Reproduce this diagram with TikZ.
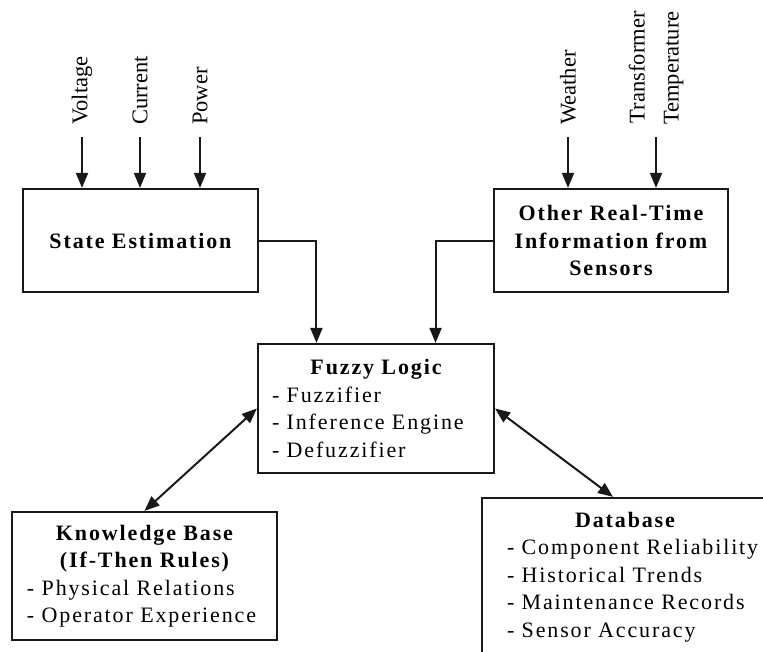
\documentclass[tikz,border=0pt]{standalone}
\usepackage{fontspec}
\setmainfont{Liberation Serif}
\newfontfamily\spacedfont[LetterSpace=8.5]{Liberation Serif}
\usepackage{tikz}
\usetikzlibrary{arrows.meta, calc}
\colorlet{line-color}{black!90}
\tikzset{
    block/.style = {draw=line-color, line width=2.2pt, inner sep=0pt,
        font=\spacedfont\fontsize{22}{27.5}\selectfont},
    in-label/.style = {rotate=90, anchor=west, inner xsep=12pt, inner ysep=0pt,
        align=right, font=\fontsize{22.5}{34}\selectfont},
    arr/.style = {draw=line-color, line width=2pt,
        -{Triangle[length=15pt,width=12pt]}},
    dbl-arr/.style = {arr, {Triangle[length=15pt,width=12pt]}-{Triangle[length=15pt,width=12pt]}},
}

\begin{document}
\begin{tikzpicture}[x=1pt,y=-1pt]
    \useasboundingbox (0,0) rectangle (763,651);

    % input blocks
    \node[block, minimum width=235pt, minimum height=103pt] (est) at (140.5,240.5)
        {\bfseries State Estimation};
    \node[block, minimum width=234pt, minimum height=103pt, align=center] (other) at (611,240.5)
        {\bfseries Other Real-Time\\ \bfseries Information from\\ \bfseries Sensors};

    % fuzzy logic core
    \node[block, minimum width=236pt, minimum height=129pt, text width=208pt, align=left] (fuzzy) at (376,408.5)
        {\makebox[208pt]{\bfseries Fuzzy Logic}\\ - Fuzzifier\\ - Inference Engine\\ - Defuzzifier};

    \node[block, minimum width=265pt, minimum height=128pt, text width=235pt, align=left] (know) at (144.5,576)
        {\makebox[235pt]{\bfseries Knowledge Base}\\ \makebox[235pt]{\bfseries (If-Then Rules)}\\
         - Physical Relations\\ - Operator Experience};
    \node[block, minimum width=300pt, minimum height=158pt, text width=250pt, align=left] (db) at (632,577)
        {\makebox[236pt]{\bfseries Database}\\ - Component Reliability\\ - Historical Trends\\
         - Maintenance Records\\ - Sensor Accuracy};

    % measured inputs
    \node[in-label] (volt) at (82,137) {Voltage};
    \node[in-label] (curr) at (140,137) {Current};
    \node[in-label] (pow) at (200,137) {Power};
    \node[in-label] (weather) at (568,137) {Weather};
    \node[in-label] (temp) at (656,137) {Transformer\\Temperature};

    \foreach \src in {volt, curr, pow}
        \draw[arr] (\src) -- (\src |- est.north);
    \foreach \src in {weather, temp}
        \draw[arr] (\src) -- (\src |- other.north);

    \draw[arr] (est.east) -| ($(fuzzy.north west)!0.25!(fuzzy.north east)$);
    \draw[arr] (other.west) -| ($(fuzzy.north west)!0.75!(fuzzy.north east)$);
    \draw[dbl-arr] (know.north) -- (fuzzy.west);
    \draw[dbl-arr] (fuzzy.east) -- ([xshift=-19pt]db.north);
\end{tikzpicture}
\end{document}
